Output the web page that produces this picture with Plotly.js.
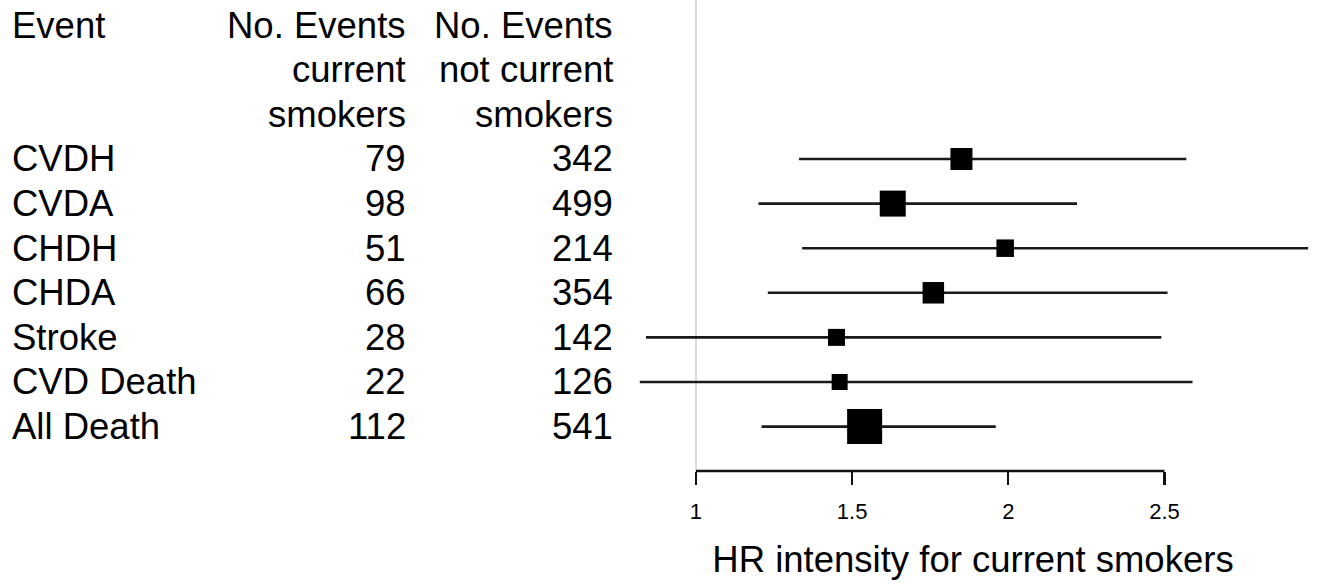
<!DOCTYPE html>
<html>
<head>
<meta charset="utf-8">
<script src="https://cdn.plot.ly/plotly-3.0.1.min.js"></script>
<style>html,body{margin:0;padding:0;background:#fff;}#chart{width:1317px;height:584px;}</style>
</head>
<body>
<div id="chart"></div>
<script>
// ---- data ----
const events = ["CVDH", "CVDA", "CHDH", "CHDA", "Stroke", "CVD Death", "All Death"];
const nCurrent = [79, 98, 51, 66, 28, 22, 112];
const nNotCurrent = [342, 499, 214, 354, 142, 126, 541];
const hr = [1.85, 1.63, 1.99, 1.76, 1.45, 1.46, 1.54];
const hrLower = [1.33, 1.20, 1.34, 1.23, 0.84, 0.82, 1.21];
const hrUpper = [2.57, 2.22, 2.96, 2.51, 2.49, 2.59, 1.96];
const weights = [22, 26, 17.5, 21.5, 17, 16, 35];
const headEvent = ["Event", "", ""];
const headCurrent = ["No. Events", "current", "smokers"];
const headNotCurrent = ["No. Events", "not current", "smokers"];
const tickVals = [1, 1.5, 2, 2.5];
const tickText = ["1", "1.5", "2", "2.5"];
const xTitle = "HR intensity for current smokers";

// ---- layout helpers ----
const W = 1317;
const FONT = "Liberation Sans, Arial, Helvetica, sans-serif";
const rows = events.map((_, i) => i + 3);

const trace = {
  type: "scatter",
  mode: "markers",
  x: hr,
  y: rows,
  marker: {symbol: "square", size: weights, color: "#000", opacity: 1, line: {width: 0}},
  error_x: {
    type: "data",
    symmetric: false,
    array: hr.map((v, i) => hrUpper[i] - v),
    arrayminus: hr.map((v, i) => v - hrLower[i]),
    color: "#1a1a1a",
    thickness: 2.6,
    width: 0
  },
  hoverinfo: "skip",
  showlegend: false
};

const annotations = [];
function txt(text, px, row, anchor) {
  if (!text) return;
  annotations.push({
    text: String(text), xref: "paper", yref: "y",
    x: px / W, y: row, xanchor: anchor, yanchor: "middle",
    showarrow: false, borderpad: 0,
    font: {family: FONT, size: 36.5, color: "#000"}
  });
}
headEvent.forEach((t, i) => txt(t, 11, i, "left"));
headCurrent.forEach((t, i) => txt(t, 407, i, "right"));
headNotCurrent.forEach((t, i) => txt(t, 614, i, "right"));
events.forEach((t, i) => txt(t, 11, rows[i], "left"));
nCurrent.forEach((t, i) => txt(t, 407, rows[i], "right"));
nNotCurrent.forEach((t, i) => txt(t, 614, rows[i], "right"));

const layout = {
  width: 1317, height: 584,
  margin: {l: 0, r: 0, t: 0, b: 113},
  paper_bgcolor: "#fff", plot_bgcolor: "#fff",
  font: {family: FONT, color: "#000"},
  xaxis: {
    domain: [0.4776, 1],
    range: [0.7855, 2.9885],
    autorange: false,
    tickvals: tickVals, ticktext: tickText,
    ticks: "outside", ticklen: 13, tickwidth: 2.4, tickcolor: "#111",
    showline: false, showgrid: false, zeroline: false,
    tickfont: {family: FONT, size: 22, color: "#000"},
    ticklabelstandoff: 8,
    title: {text: xTitle, font: {family: FONT, size: 36.5, color: "#000"}, standoff: 23},
    automargin: false, fixedrange: true
  },
  yaxis: {
    range: [9.996, -0.565], autorange: false,
    visible: false, showgrid: false, zeroline: false, fixedrange: true
  },
  shapes: [
    {type: "line", xref: "x", yref: "paper", x0: 1, x1: 1, y0: 0, y1: 1,
     line: {color: "#d0d0d0", width: 1.6}, layer: "below"},
    {type: "line", xref: "x", yref: "paper", x0: tickVals[0], x1: tickVals[tickVals.length - 1], y0: 0, y1: 0,
     line: {color: "#111", width: 2.4}}
  ],
  annotations: annotations
};

Plotly.newPlot("chart", [trace], layout, {displayModeBar: false, staticPlot: true});
</script>
</body>
</html>
